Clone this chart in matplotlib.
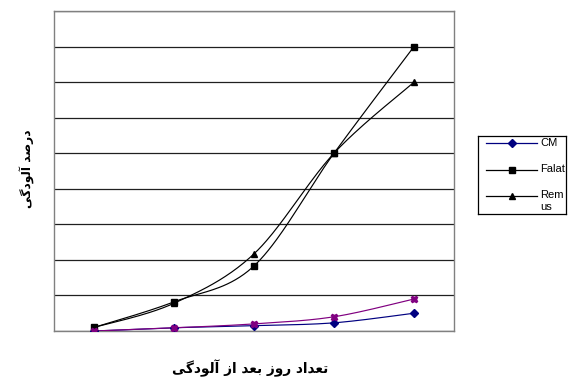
import numpy as np
import matplotlib
matplotlib.use("Agg")
import matplotlib.pyplot as plt
from matplotlib.lines import Line2D

# ---- data -------------------------------------------------------------
days = [1, 2, 3, 4, 5]
cm_values = [0.0, 0.9, 1.5, 2.3, 5.0]
falat_values = [1.0, 8.2, 18.3, 50.0, 80.0]
remus_values = [1.0, 7.8, 21.7, 50.0, 70.0]
fourth_values = [0.0, 0.9, 2.0, 4.0, 9.0]

series_names = ["CM", "Falat", "Rem\nus"]
y_max = 90
y_step = 10

x_label = "تعداد روز بعد از آلودگی"
y_label = "درصد آلودگی"


# ---- minimal Arabic/Persian contextual shaping -----------------------
# forms: (isolated, final, initial, medial); two-form letters only join to the right
FORMS = {
    "ا": (0xFE8D, 0xFE8E), "آ": (0xFE81, 0xFE82),
    "د": (0xFEA9, 0xFEAA), "ر": (0xFEAD, 0xFEAE),
    "ز": (0xFEAF, 0xFEB0), "و": (0xFEED, 0xFEEE),
    "ب": (0xFE8F, 0xFE90, 0xFE91, 0xFE92),
    "ت": (0xFE95, 0xFE96, 0xFE97, 0xFE98),
    "ص": (0xFEB9, 0xFEBA, 0xFEBB, 0xFEBC),
    "ع": (0xFEC9, 0xFECA, 0xFECB, 0xFECC),
    "ل": (0xFEDD, 0xFEDE, 0xFEDF, 0xFEE0),
    "گ": (0xFB92, 0xFB93, 0xFB94, 0xFB95),
    "ی": (0xFBFC, 0xFBFD, 0xFBFE, 0xFBFF),
}


def shape_rtl(text):
    out = []
    for i, ch in enumerate(text):
        if ch not in FORMS:
            out.append(ch)
            continue
        prev = text[i - 1] if i > 0 else ""
        nxt = text[i + 1] if i + 1 < len(text) else ""
        joins_prev = prev in FORMS and len(FORMS[prev]) == 4
        joins_next = len(FORMS[ch]) == 4 and nxt in FORMS
        f = FORMS[ch]
        if joins_prev and joins_next:
            code = f[3]
        elif joins_prev:
            code = f[1]
        elif joins_next:
            code = f[2]
        else:
            code = f[0]
        out.append(chr(code))
    return "".join(reversed(out))


# ---- smoothed curve (cubic Bezier through points, 1/6 tangent factor) --
def smooth(xs, ys, n=40):
    p = np.column_stack([xs, ys]).astype(float)
    ext = np.vstack([p[0], p, p[-1]])
    pts = []
    for i in range(len(p) - 1):
        p0, p1, p2, p3 = ext[i], ext[i + 1], ext[i + 2], ext[i + 3]
        c1 = p1 + (p2 - p0) / 6.0
        c2 = p2 - (p3 - p1) / 6.0
        t = np.linspace(0, 1, n)[:, None]
        seg = ((1 - t) ** 3) * p1 + 3 * ((1 - t) ** 2) * t * c1 \
            + 3 * (1 - t) * t ** 2 * c2 + t ** 3 * p2
        pts.append(seg if i == 0 else seg[1:])
    seg = np.vstack(pts)
    return seg[:, 0], seg[:, 1]


# ---- figure -----------------------------------------------------------
W, H = 572, 378
fig = plt.figure(figsize=(W / 100, H / 100), dpi=100)
fig.patch.set_facecolor("white")
ax = fig.add_axes([54 / W, 1 - 331 / H, 400 / W, 320 / H])

xpos = np.arange(len(days))
styles = [
    (cm_values, "#000080", "D", 4.0),
    (falat_values, "#000000", "s", 4.5),
    (remus_values, "#000000", "^", 5.0),
    (fourth_values, "#800080", "X", 5.0),
]
for vals, col, mk, ms in styles:
    sx, sy = smooth(xpos, vals)
    ax.plot(sx, sy, color=col, lw=0.85, zorder=3, solid_capstyle="round")
    ax.plot(xpos, vals, ls="none", marker=mk, ms=ms, color=col,
            mec=col, zorder=4)

ax.set_xlim(-0.5, len(days) - 0.5)
ax.set_ylim(0, y_max)
ax.set_yticks(np.arange(0, y_max + 1, y_step))
ax.set_xticks(xpos)
ax.tick_params(length=0, labelleft=False, labelbottom=False)
ax.grid(axis="y", color="#202020", lw=0.9, zorder=1)
for s in ax.spines.values():
    s.set_color("#808080")
    s.set_linewidth(1.0)

fig.text(250 / W, 1 - 368 / H, shape_rtl(x_label), ha="center",
         va="center", fontsize=9.8, fontweight="bold",
         family=["DejaVu Sans"])
fig.text(27 / W, 1 - 169 / H, shape_rtl(y_label), ha="center",
         va="center", rotation=90, fontsize=8.8, fontweight="bold",
         family=["DejaVu Sans"])

# ---- legend box -------------------------------------------------------
lx0, ly0, lx1, ly1 = 478, 136, 566, 214
lax = fig.add_axes([lx0 / W, 1 - ly1 / H, (lx1 - lx0) / W, (ly1 - ly0) / H])
lax.set_xlim(0, lx1 - lx0)
lax.set_ylim(ly1 - ly0, 0)
lax.set_xticks([])
lax.set_yticks([])
for s in lax.spines.values():
    s.set_color("#000000")
    s.set_linewidth(0.9)

rows = [7, 34, 60]
for (vals, col, mk, ms), name, ry in zip(styles[:3], series_names, rows):
    lax.add_line(Line2D([8, 59], [ry, ry], color=col, lw=0.9))
    lax.plot([34], [ry], marker=mk, ms=ms, color=col, mec=col)
    lax.text(62, ry - 5.5, name, ha="left", va="top", fontsize=8,
             family=["Liberation Sans"], linespacing=1.15)

fig.savefig("out.png", dpi=100, facecolor="white")
